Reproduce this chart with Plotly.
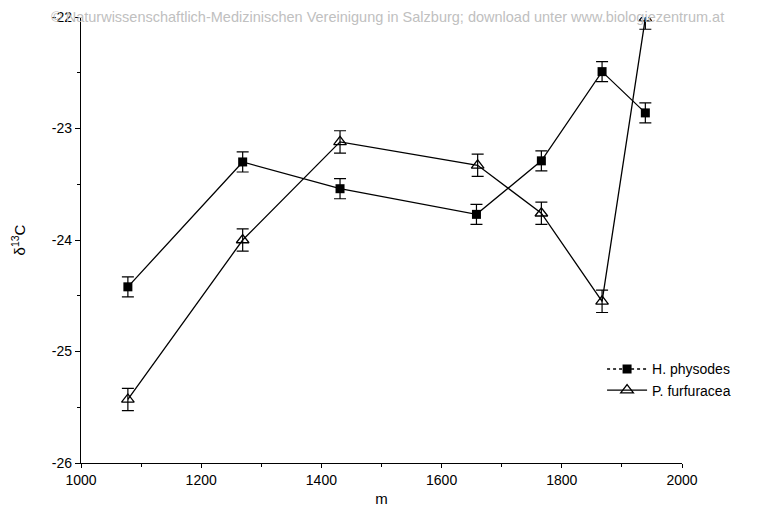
import plotly.graph_objects as go

# Data
alt_h = [1078, 1269, 1431, 1658, 1766, 1867, 1939]
d13c_h = [-24.42, -23.30, -23.54, -23.77, -23.29, -22.49, -22.86]
err_h = [0.09, 0.09, 0.09, 0.09, 0.09, 0.09, 0.09]

alt_p = [1078, 1269, 1431, 1660, 1766, 1867, 1939]
d13c_p = [-25.43, -24.00, -23.12, -23.33, -23.76, -24.55, -22.01]
err_p = [0.10, 0.10, 0.10, 0.10, 0.10, 0.10, 0.10]

y_ticks = [-26, -25, -24, -23, -22]
y_labels = ["-26", "-25", "-24", "-23", "-22"]
x_ticks = [1000, 1200, 1400, 1600, 1800, 2000]
x_labels = ["1000", "1200", "1400", "1600", "1800", "2000"]

names = ["H. physodes", "P. furfuracea"]
watermark = "© Naturwissenschaftlich-Medizinischen Vereinigung in Salzburg; download unter www.biologiezentrum.at"

FONT = "Liberation Sans, Arial, sans-serif"

fig = go.Figure()

fig.add_trace(go.Scatter(
    x=alt_h, y=d13c_h, mode="lines+markers", showlegend=False,
    line=dict(color="black", width=1.3),
    marker=dict(symbol="square", size=9, color="black"),
    error_y=dict(type="data", array=err_h, color="black", thickness=1.2, width=6),
))
fig.add_trace(go.Scatter(
    x=alt_p, y=d13c_p, mode="lines+markers", showlegend=False,
    line=dict(color="black", width=1.3),
    marker=dict(symbol="triangle-up-open", size=11, color="black", line=dict(width=1.3)),
    error_y=dict(type="data", array=err_p, color="black", thickness=1.2, width=6),
))

# legend entries
fig.add_trace(go.Scatter(
    x=[None], y=[None], mode="lines+markers", name=names[0],
    line=dict(color="black", width=1.5, dash="dot"),
    marker=dict(symbol="square", size=9, color="black"),
))
fig.add_trace(go.Scatter(
    x=[None], y=[None], mode="lines+markers", name=names[1],
    line=dict(color="black", width=1.3),
    marker=dict(symbol="triangle-up-open", size=11, color="black", line=dict(width=1.3)),
))

fig.update_layout(
    width=758, height=500,
    margin=dict(l=73, r=84, t=9, b=45, autoexpand=False),
    paper_bgcolor="white", plot_bgcolor="white",
    font=dict(family=FONT, size=14, color="black"),
    showlegend=True,
    legend=dict(x=0.867, y=0.246, xanchor="left", yanchor="top",
                bgcolor="rgba(0,0,0,0)", font=dict(size=14),
                tracegroupgap=0, itemwidth=40),
    xaxis=dict(range=[1000, 2000], tickvals=x_ticks, ticktext=x_labels,
               showgrid=False, zeroline=False, showline=True, linecolor="black",
               linewidth=1.3, ticks="outside", ticklen=4, tickcolor="black",
               automargin=False,
               minor=dict(dtick=100, ticks="outside", ticklen=3, tickcolor="black", showgrid=False),
               title=dict(text="m", font=dict(size=15), standoff=6)),
    yaxis=dict(range=[-26, -22], tickvals=y_ticks, ticktext=y_labels,
               showgrid=False, zeroline=False, showline=True, linecolor="black",
               linewidth=1.3, ticks="outside", ticklen=5, tickcolor="black",
               automargin=False,
               minor=dict(dtick=0.5, ticks="outside", ticklen=3, tickcolor="black", showgrid=False),
               title=dict(text="δ<sup>13</sup>C", font=dict(size=15), standoff=22)),
)

fig.add_annotation(
    text=watermark, xref="paper", yref="paper", x=-0.053, y=1.0,
    xanchor="left", yanchor="middle", showarrow=False,
    font=dict(family=FONT, size=14.5, color="#c0c0c0"),
)

fig.write_html("out.html")
